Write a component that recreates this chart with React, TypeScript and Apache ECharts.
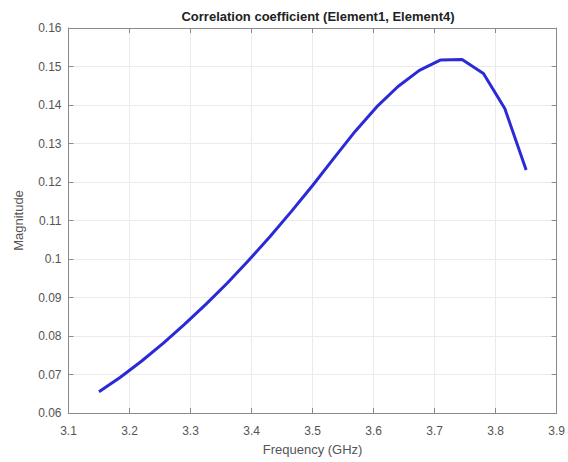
import React, { useEffect, useRef } from "react";
import * as echarts from "echarts";

const frequency = [
  3.15, 3.185, 3.22, 3.255, 3.29, 3.325, 3.36, 3.395, 3.43, 3.465, 3.5,
  3.535, 3.57, 3.605, 3.64, 3.675, 3.71, 3.745, 3.78, 3.815, 3.85,
];
const magnitude = [
  0.0655, 0.0693, 0.0735, 0.0781, 0.083, 0.0882, 0.0937, 0.0996, 0.1058,
  0.1123, 0.1191, 0.1262, 0.1332, 0.1395, 0.1448, 0.149, 0.1517, 0.1518,
  0.1482, 0.1391, 0.1231,
];
const titleText = "Correlation coefficient (Element1, Element4)";
const xName = "Frequency (GHz)";
const yName = "Magnitude";

const FONT = "'Liberation Sans', Arial, sans-serif";
const AXIS = "#8a8a8a";
const LABEL = "#555555";
const GRID = "#ebebeb";

export default function App() {
  const ref = useRef<HTMLDivElement>(null);
  useEffect(() => {
    if (!ref.current) return;
    const chart = echarts.init(ref.current, undefined, { renderer: "svg" });
    const baseX = {
      type: "value" as const,
      min: 3.1,
      max: 3.9,
      interval: 0.1,
      axisLine: { show: true, lineStyle: { color: AXIS, width: 1 } },
      axisTick: { show: true, inside: true, length: 5, lineStyle: { color: AXIS } },
    };
    const baseY = {
      type: "value" as const,
      min: 0.06,
      max: 0.16,
      interval: 0.01,
      axisLine: { show: true, lineStyle: { color: AXIS, width: 1 } },
      axisTick: { show: true, inside: true, length: 5, lineStyle: { color: AXIS } },
    };
    chart.setOption({
      animation: false,
      backgroundColor: "#ffffff",
      title: {
        text: titleText,
        left: 313,
        top: 5,
        textAlign: "center",
        textStyle: { fontFamily: FONT, fontSize: 13, fontWeight: "bold", color: "#222222" },
      },
      grid: { left: 68.5, right: 11, top: 28, bottom: 49, containLabel: false },
      xAxis: [
        {
          ...baseX,
          position: "bottom",
          name: xName,
          nameLocation: "middle",
          nameGap: 30,
          nameTextStyle: { fontFamily: FONT, fontSize: 13, color: LABEL },
          axisLabel: { fontFamily: FONT, fontSize: 12, color: LABEL, margin: 12 },
          splitLine: { show: true, lineStyle: { color: GRID, width: 1 } },
        },
        {
          ...baseX,
          position: "top",
          axisLabel: { show: false },
          splitLine: { show: false },
        },
      ],
      yAxis: [
        {
          ...baseY,
          position: "left",
          name: yName,
          nameLocation: "middle",
          nameRotate: 90,
          nameGap: 44,
          nameTextStyle: { fontFamily: FONT, fontSize: 13, color: LABEL },
          axisLabel: { fontFamily: FONT, fontSize: 12, color: LABEL, margin: 7 },
          splitLine: { show: true, lineStyle: { color: GRID, width: 1 } },
        },
        {
          ...baseY,
          position: "right",
          axisLabel: { show: false },
          splitLine: { show: false },
        },
      ],
      series: [
        {
          type: "line",
          xAxisIndex: 0,
          yAxisIndex: 0,
          data: frequency.map((f, i) => [f, magnitude[i]]),
          showSymbol: false,
          symbol: "none",
          lineStyle: { color: "#2a2ad6", width: 3 },
          itemStyle: { color: "#2a2ad6" },
        },
      ],
    });
    return () => chart.dispose();
  }, []);
  return (
    <div
      ref={ref}
      style={{ position: "absolute", left: 0, top: 0, width: 568, height: 462, background: "#fff" }}
    />
  );
}
